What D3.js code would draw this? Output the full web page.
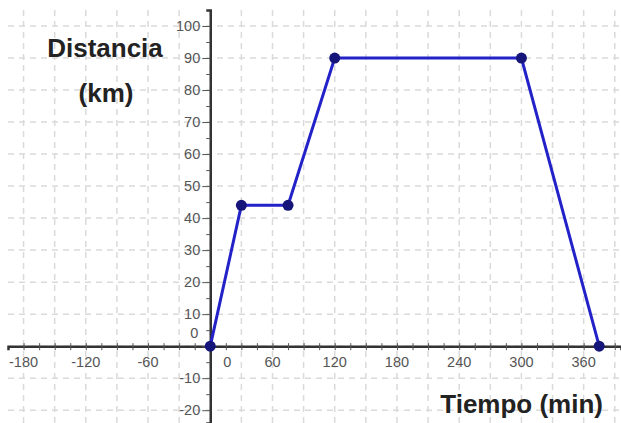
<!DOCTYPE html>
<html>
<head>
<script src="https://d3js.org/d3.v7.min.js"></script>
<style>
  body { margin: 0; background: #fff; }
  text { font-family: "Liberation Sans", Arial, sans-serif; }
</style>
</head>
<body>
<svg class="target"></svg>
<script>

// data
tiempo = [0, 30, 75, 120, 300, 375]
distancia = [0, 44, 44, 90, 90, 0]

xLabels = [-180, -120, -60, 60, 120, 180, 240, 300, 360]
yLabels = [-20, -10, 10, 20, 30, 40, 50, 60, 70, 80, 90, 100]

width = 621
height = 423

svg = d3.select('.target')
      .attr('width', width)
      .attr('height', height)

x = d3.scaleLinear().domain([-195, 396]).range([8, 621])
y = d3.scaleLinear().domain([-24, 105]).range([423, 10])

// faint dashed grid
grid = svg.append('g')
  .attr('stroke', '#dadada')
  .attr('stroke-width', 1.5)
  .attr('stroke-dasharray', '6,5')

grid.selectAll('.v')
  .data(d3.range(-180, 391, 30))
  .join('line')
    .attr('x1', d => x(d)).attr('x2', d => x(d))
    .attr('y1', 10).attr('y2', height)

grid.selectAll('.h')
  .data(d3.range(-20, 101, 10))
  .join('line')
    .attr('y1', d => y(d)).attr('y2', d => y(d))
    .attr('x1', 8).attr('x2', width)

// x axis
xAxis = svg.append('g')
  .attr('transform', `translate(0,${y(0)})`)
  .call(d3.axisBottom(x).tickValues(d3.range(-180, 391, 15)).tickSize(4).tickFormat(''))
xAxis.select('.domain').attr('stroke', '#333').attr('stroke-width', 2.5)
xAxis.selectAll('.tick line').attr('stroke', '#555').attr('y1', -3)

xAxis.selectAll('.lbl')
  .data(xLabels)
  .join('text')
    .attr('x', d => x(d))
    .attr('y', 21)
    .attr('text-anchor', 'middle')
    .attr('fill', '#555')
    .attr('font-size', 14.5)
    .text(d => d)
xAxis.append('text')
  .attr('x', x(0) + 17).attr('y', 21)
  .attr('text-anchor', 'middle').attr('fill', '#555').attr('font-size', 14.5)
  .text('0')

// y axis
yAxis = svg.append('g')
  .attr('transform', `translate(${x(0)},0)`)
  .call(d3.axisLeft(y).tickValues(d3.range(-20, 101, 5)).tickSize(4).tickFormat(''))
yAxis.select('.domain').attr('stroke', '#333').attr('stroke-width', 2.5)
yAxis.selectAll('.tick line').attr('stroke', '#555')
yAxis.selectAll('.tick')
  .filter(d => d % 10 === 0)
  .select('line').attr('x2', -8)

yAxis.selectAll('.lbl')
  .data(yLabels)
  .join('text')
    .attr('x', -10)
    .attr('y', d => y(d))
    .attr('dy', '0.35em')
    .attr('text-anchor', 'end')
    .attr('fill', '#555')
    .attr('font-size', 14.5)
    .text(d => d)
yAxis.append('text')
  .attr('x', -12).attr('y', y(0) - 13).attr('dy', '0.35em')
  .attr('text-anchor', 'end').attr('fill', '#555').attr('font-size', 14.5)
  .text('0')

// axis titles
svg.append('text')
  .attr('x', 105).attr('y', 57)
  .attr('text-anchor', 'middle').attr('font-size', 26).attr('font-weight', 'bold').attr('fill', '#222')
  .text('Distancia')
svg.append('text')
  .attr('x', 106).attr('y', 102)
  .attr('text-anchor', 'middle').attr('font-size', 26).attr('font-weight', 'bold').attr('fill', '#222')
  .text('(km)')
svg.append('text')
  .attr('x', 603).attr('y', 413)
  .attr('text-anchor', 'end').attr('font-size', 26).attr('font-weight', 'bold').attr('fill', '#222')
  .text('Tiempo (min)')

// the trip
pts = tiempo.map((t, i) => [t, distancia[i]])

svg.append('path')
  .datum(pts)
  .attr('fill', 'none')
  .attr('stroke', '#2222c8')
  .attr('stroke-width', 3)
  .attr('d', d3.line().x(d => x(d[0])).y(d => y(d[1])))

svg.selectAll('.pt')
  .data(pts)
  .join('circle')
    .attr('cx', d => x(d[0]))
    .attr('cy', d => y(d[1]))
    .attr('r', 5.5)
    .attr('fill', '#15157a')

</script>
</body>
</html>
